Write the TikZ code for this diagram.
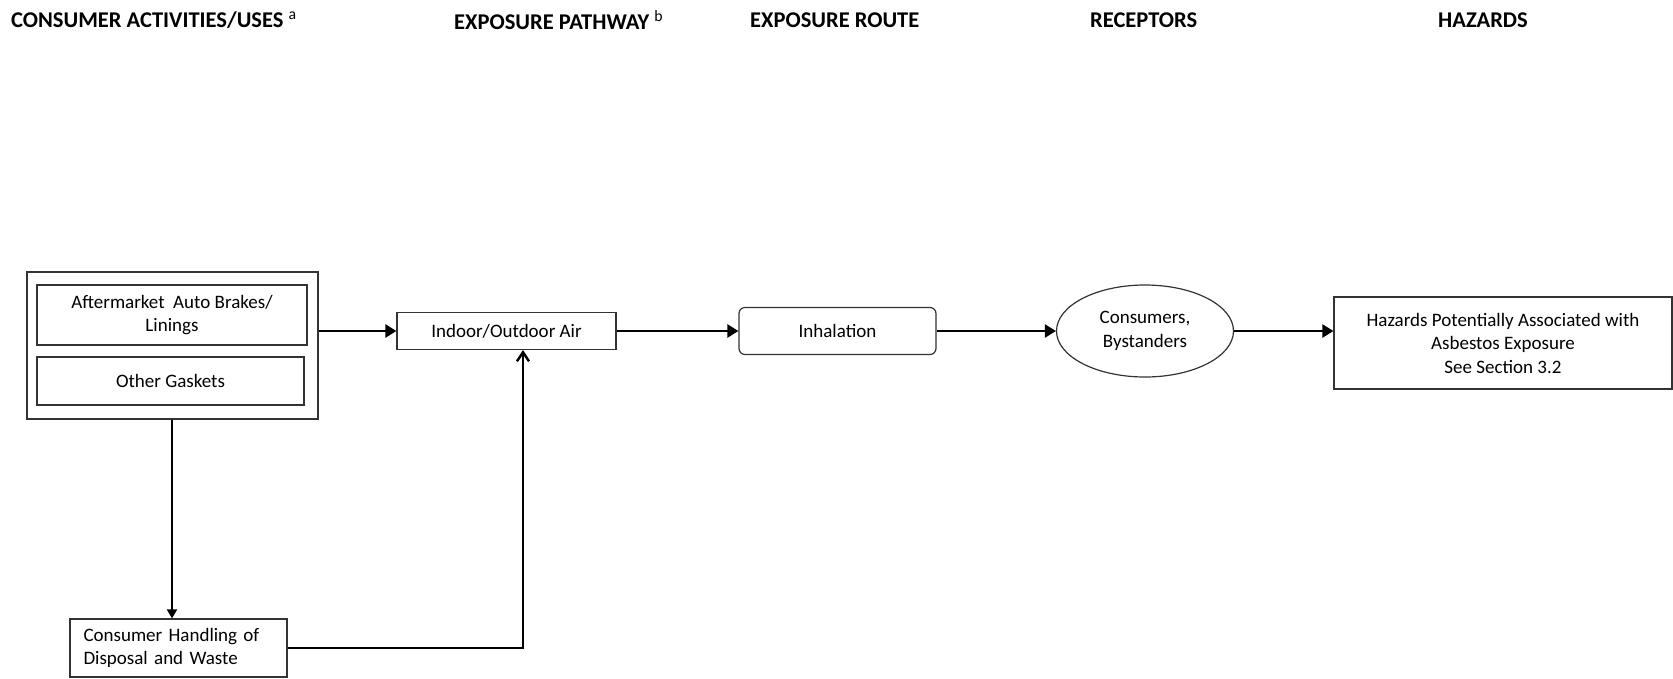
\documentclass[tikz,border=0pt]{standalone}
\usepackage{fontspec}
\setmainfont{Carlito}
\usetikzlibrary{arrows.meta, shapes.geometric}

\begin{document}
\begin{tikzpicture}
	[%
	x=1pt, y=-1pt,%
	header/.style ={anchor=west,	font=\bfseries\fontsize{22.5}{26}\selectfont,	inner sep=0pt},%
	box/.style    ={rectangle,		draw=black!80,	line width=1.2pt,	align=center,	font=\fontsize{19}{23.5}\selectfont,	inner sep=2pt},%
	roundbox/.style={box,		rounded corners=6pt},%
	oval/.style   ={ellipse,		draw=black!80,	line width=1.2pt,	align=center,	font=\fontsize{19}{23.5}\selectfont,	inner sep=0pt},%
	flow/.style   ={line width=2.4pt,	-{Triangle[length=11pt, width=13pt]}},%
	back/.style   ={line width=2.4pt,	-{Straight Barb[length=9pt, width=12pt]}},%
	down/.style   ={line width=2pt,		-{Triangle[length=9pt, width=10pt]}},%
	]

	\useasboundingbox (0,0) rectangle (1673,678);

	% headers
	\node (hdruses)	at (11,20)		[header] {CONSUMER ACTIVITIES/USES \textsuperscript{\mdseries a}};
	\node (hdrpath)	at (454,20)		[header] {EXPOSURE PATHWAY \textsuperscript{\mdseries b}};
	\node (hdrroute)	at (750,20)		[header] {EXPOSURE ROUTE};
	\node (hdrrecep)	at (1090,20)	[header] {RECEPTORS};
	\node (hdrhaz)		at (1438,20)	[header] {HAZARDS};

	% nodes
	\node (uses)		at (172.5,345.5)	[box, minimum width=291, minimum height=147] {};
	\node (brakes)	at (172,315)		[box, minimum width=270, minimum height=60] {Aftermarket\ \ Auto Brakes/\\Linings};
	\node (gaskets)	at (170.5,381)		[box, minimum width=267, minimum height=48] {Other Gaskets};
	\node (air)		at (506.5,331)		[box, minimum width=219, minimum height=37] {Indoor/Outdoor Air};
	\node (inhal)		at (837.5,331)		[roundbox, minimum width=197, minimum height=47] {Inhalation};
	\node (recep)		at (1145,331)		[oval, minimum width=177, minimum height=92] {Consumers,\\Bystanders};
	\node (hazard)	at (1503,343)		[box, minimum width=338, minimum height=92] {Hazards Potentially Associated with\\Asbestos Exposure\\See Section 3.2};
	\node (waste)		at (178.5,648)		[box, minimum width=217, minimum height=58, align=left, text width=190] {Consumer Handling of\\Disposal and Waste};
	\coordinate (bend)	at (523,648);

	% interconnections
	\draw [flow] (uses.east |- air.west)	-- (air.west);
	\draw [flow] (air.east)		-- (inhal.west);
	\draw [flow] (inhal.east)	-- (recep.west);
	\draw [flow] (recep.east)	-- (hazard.west |- recep.east);
	\draw [down] (172,0 |- uses.south)	-- (172,0 |- waste.north);
	\draw [back] (waste.east)	-- (bend) -- (bend |- air.south);

\end{tikzpicture}
\end{document}
